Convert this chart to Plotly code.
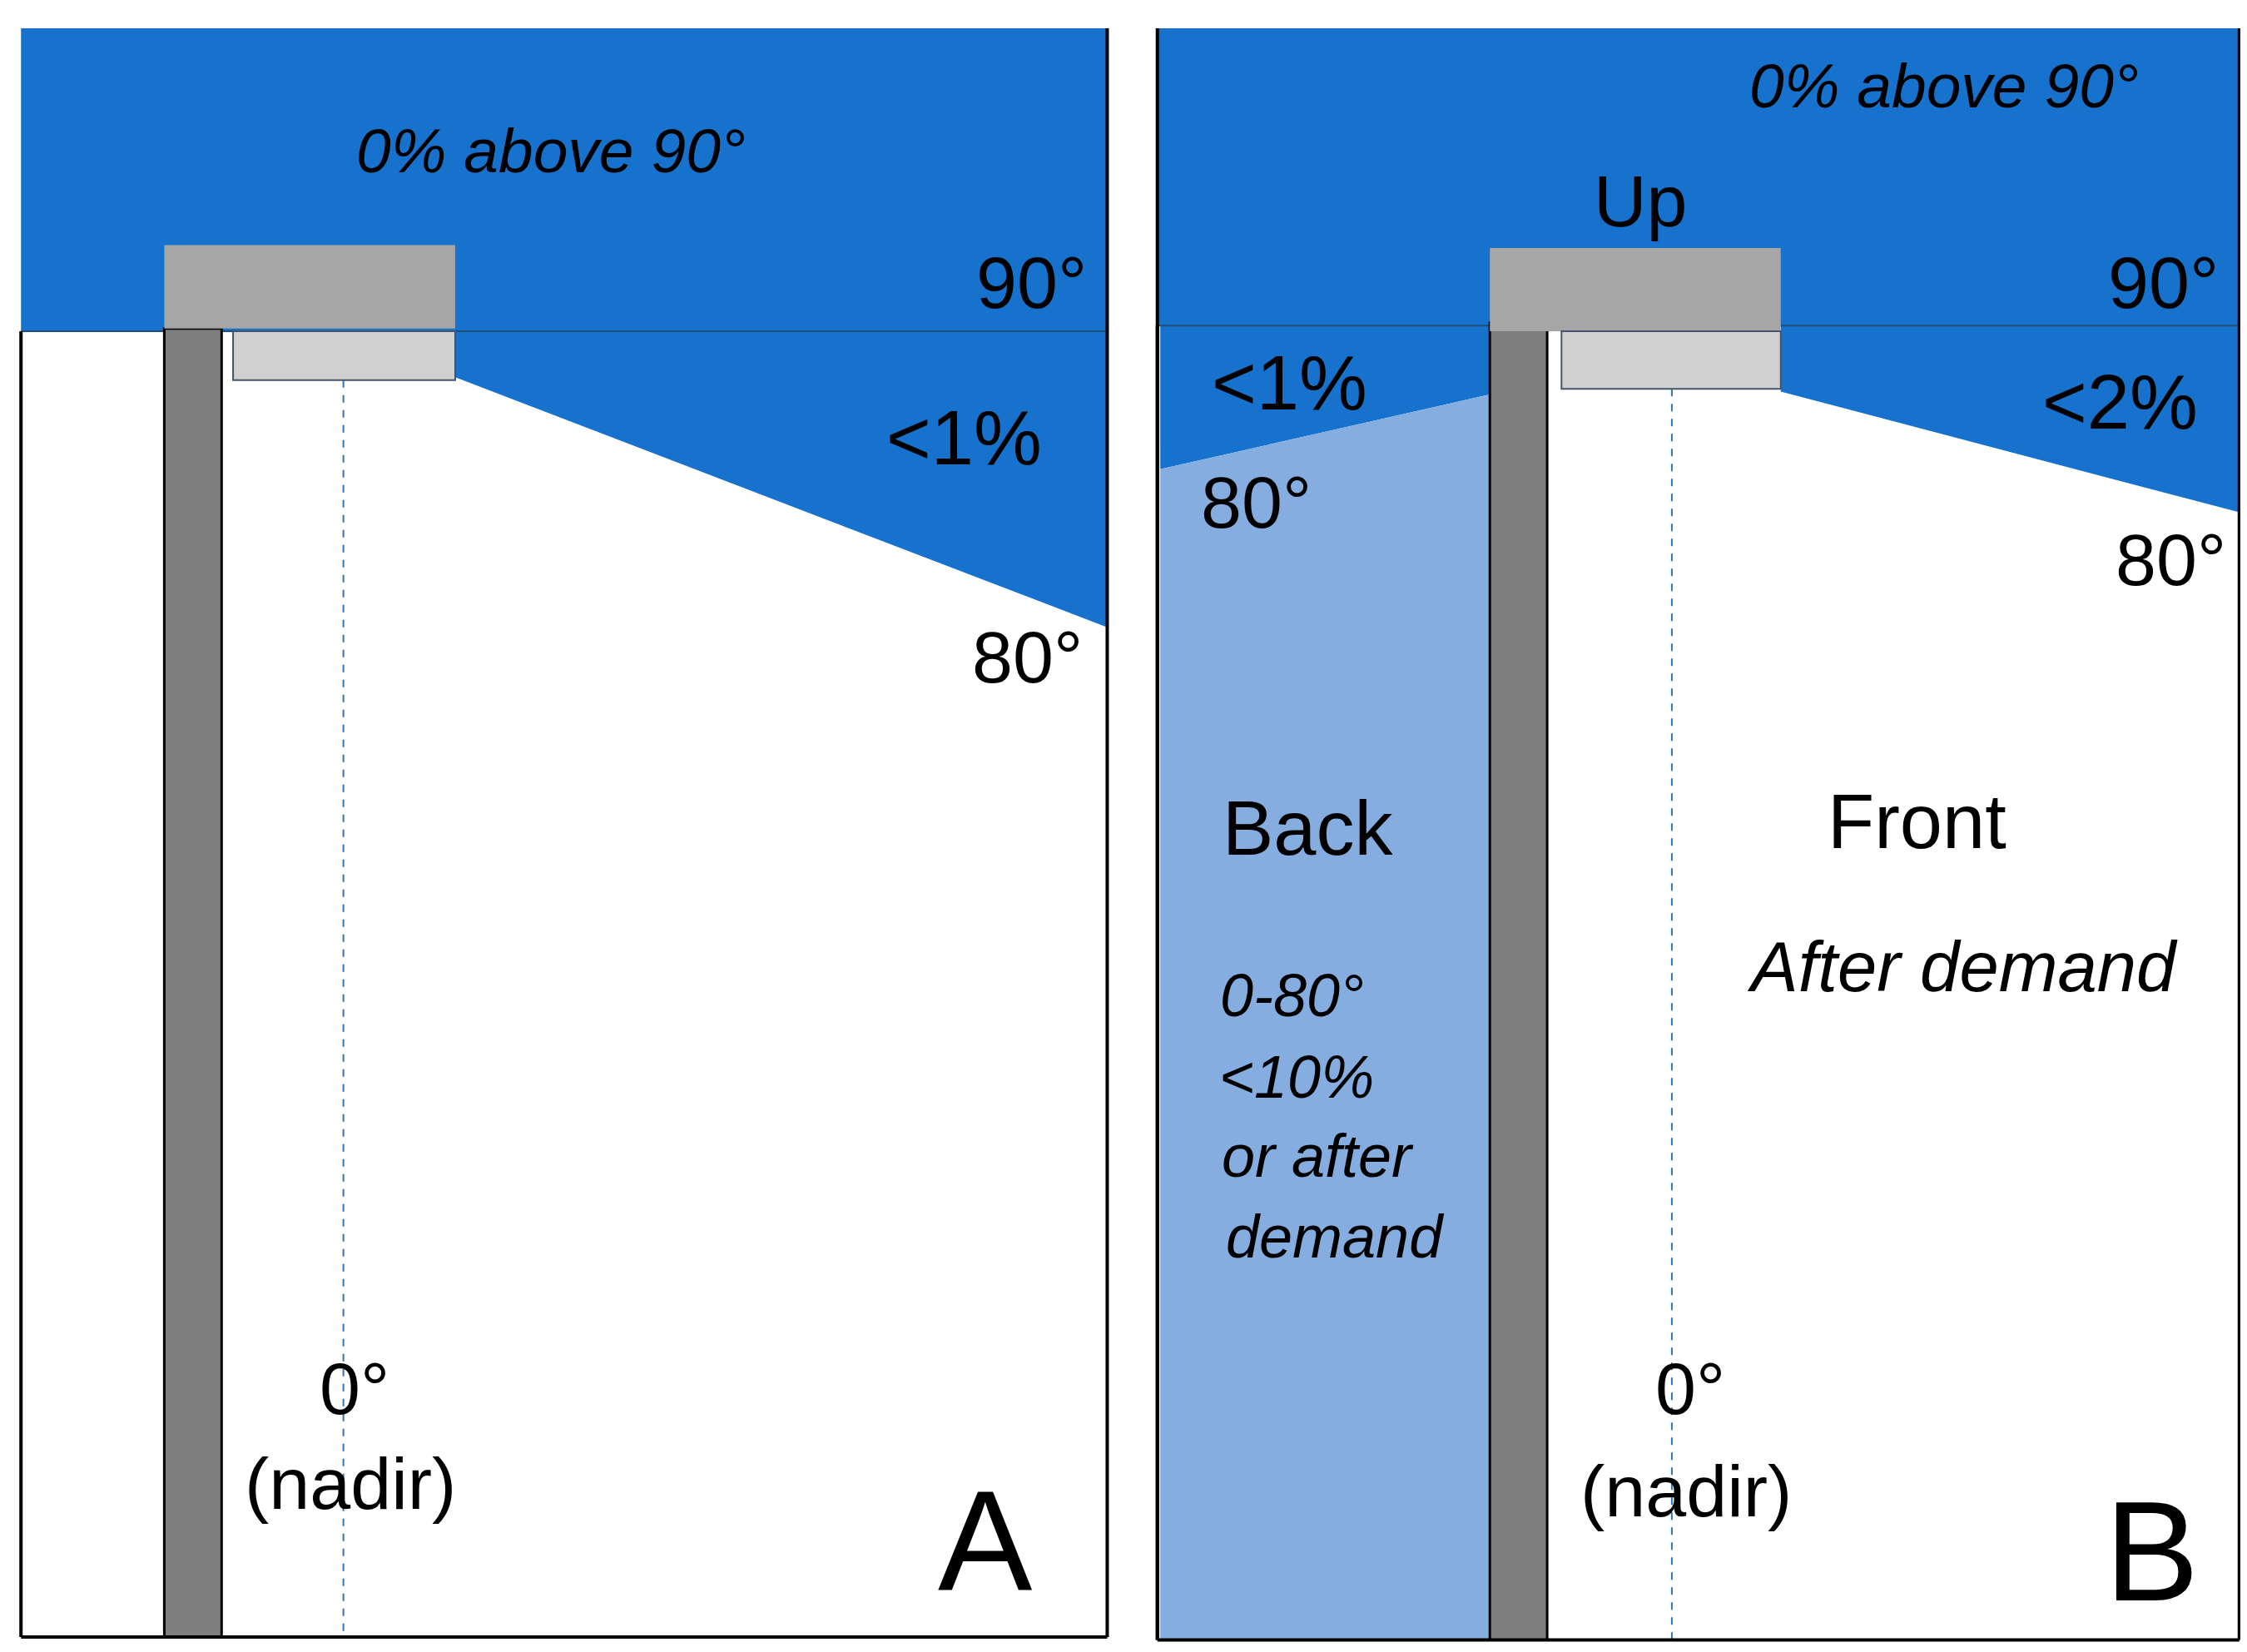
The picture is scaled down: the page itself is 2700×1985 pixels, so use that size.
import plotly.graph_objects as go

W, H = 1568, 1150
BLUE = "#1672CC"
LBLUE = "#85ADE0"
DGRAY = "#7F7F7F"
MGRAY = "#A6A6A6"
LGRAY = "#D0D0D0"
FONT = "Liberation Sans Narrow, Liberation Sans, Arial"

# geometry (reference image units)
panels = [
    dict(x0=10, x1=768, top=15, bot=1135, horizon=226,
         wedge=[(313, 226), (768, 226), (768, 432), (313, 258)],
         pole=(110, 150), box=(110, 313, 166, 224), lamp=(158, 313, 226, 260), nadir=235),
    dict(x0=803, x1=1558, top=15, bot=1137, horizon=222,
         wedge=[(1238, 222), (1558, 222), (1558, 352), (1238, 268)],
         pole=(1035, 1075), box=(1035, 1238, 168, 226), lamp=(1085, 1238, 226, 266), nadir=1162),
]
back_wedge = [(805, 222), (1035, 222), (1035, 270), (805, 322)]
back_region = [(805, 322), (1035, 270), (1035, 1137), (805, 1137)]

labels = [
    ("0% above 90°", 380, 100, 75, True), ("90°", 715, 192, 88, False),
    ("<1%", 668, 300, 92, False), ("80°", 712, 453, 88, False),
    ("0°", 243, 962, 88, False), ("(nadir)", 240, 1028, 88, False),
    ("A", 683, 1068, 170, False),
    ("0% above 90°", 1352, 55, 75, True), ("Up", 1140, 135, 88, False),
    ("90°", 1505, 192, 88, False), ("<1%", 895, 262, 92, False),
    ("<2%", 1475, 275, 92, False), ("80°", 872, 345, 88, False),
    ("80°", 1510, 385, 88, False), ("Back", 908, 572, 92, False),
    ("Front", 1333, 567, 92, False), ("After demand", 1365, 668, 85, True),
    ("0-80°", 897, 688, 72, True), ("<10%", 900, 745, 72, True),
    ("or after", 915, 800, 72, True), ("demand", 927, 856, 72, True),
    ("0°", 1175, 962, 88, False), ("(nadir)", 1172, 1033, 88, False),
    ("B", 1497, 1075, 170, False),
]

def poly(pts):
    return "M " + " L ".join(f"{x},{y}" for x, y in pts) + " Z"

shapes = []
for p in panels:
    shapes.append(dict(type="rect", x0=p["x0"], x1=p["x1"], y0=p["top"], y1=p["horizon"],
                       fillcolor=BLUE, line=dict(width=0), layer="below"))
    shapes.append(dict(type="path", path=poly(p["wedge"]), fillcolor=BLUE, line=dict(width=0), layer="below"))
for pts, col in [(back_wedge, BLUE), (back_region, LBLUE)]:
    shapes.append(dict(type="path", path=poly(pts), fillcolor=col, line=dict(width=0), layer="below"))
for p in panels:
    shapes.append(dict(type="line", x0=p["x0"], x1=p["x1"], y0=p["horizon"], y1=p["horizon"],
                       line=dict(color="#1F4E79", width=2)))
    shapes.append(dict(type="line", x0=p["nadir"], x1=p["nadir"], y0=p["lamp"][3], y1=p["bot"],
                       line=dict(color="#2E75B6", width=2, dash="dash")))
    shapes.append(dict(type="rect", x0=p["pole"][0], x1=p["pole"][1], y0=p["horizon"] - 2, y1=p["bot"],
                       fillcolor=DGRAY, line=dict(color="black", width=3)))
    bx = p["box"]
    shapes.append(dict(type="rect", x0=bx[0], x1=bx[1], y0=bx[2], y1=bx[3], fillcolor=MGRAY, line=dict(width=0)))
    lp = p["lamp"]
    shapes.append(dict(type="rect", x0=lp[0], x1=lp[1], y0=lp[2], y1=lp[3], fillcolor=LGRAY,
                       line=dict(color="#44546A", width=2)))
    # borders
    shapes.append(dict(type="line", x0=p["x0"], x1=p["x0"], y0=p["horizon"], y1=p["bot"], line=dict(color="black", width=4)))
    shapes.append(dict(type="line", x0=p["x1"], x1=p["x1"], y0=p["top"], y1=p["bot"], line=dict(color="black", width=4)))
    shapes.append(dict(type="line", x0=p["x0"], x1=p["x1"], y0=p["bot"], y1=p["bot"], line=dict(color="black", width=4)))
shapes.append(dict(type="line", x0=803, x1=803, y0=15, y1=1137, line=dict(color="black", width=4)))

annotations = []
for t, x, y, s, it in labels:
    txt = f"<i>{t}</i>" if it else t
    annotations.append(dict(text=txt, x=x, y=y, xref="x", yref="y", showarrow=False,
                            font=dict(family=FONT, size=s, color="black"),
                            xanchor="center", yanchor="middle"))

fig = go.Figure()
fig.update_layout(width=2700, height=1985, margin=dict(l=0, r=0, t=0, b=0),
                  paper_bgcolor="white", plot_bgcolor="white", shapes=shapes,
                  annotations=annotations, showlegend=False,
                  xaxis=dict(range=[0, W], visible=False, fixedrange=True),
                  yaxis=dict(range=[H, 0], visible=False, fixedrange=True))
fig.write_html("out.html")
